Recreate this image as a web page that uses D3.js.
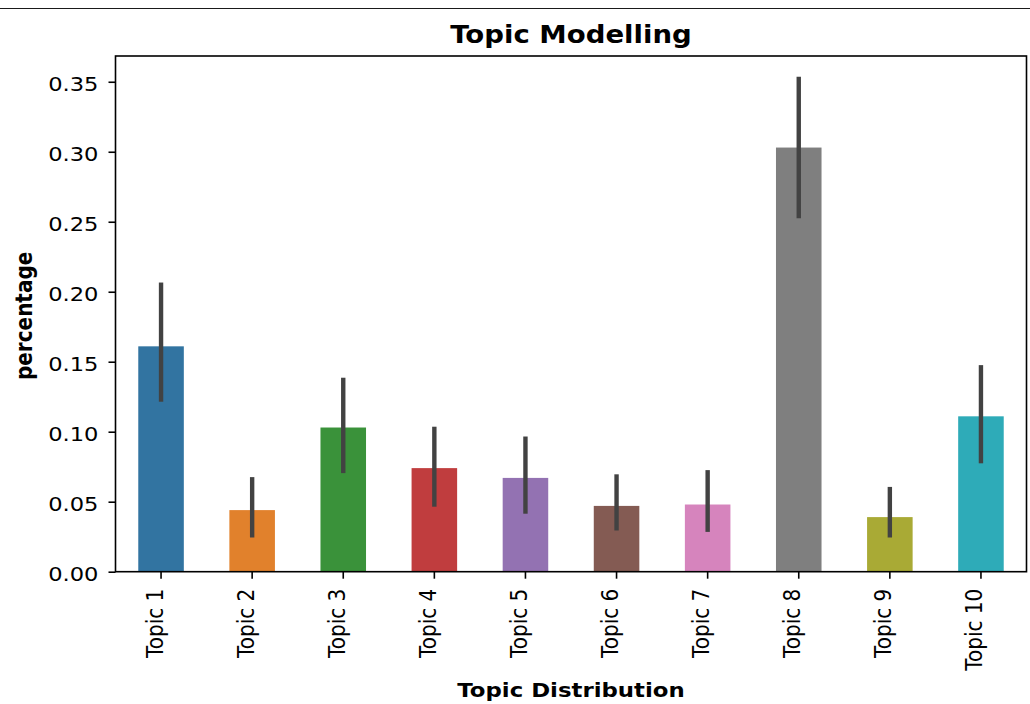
<!DOCTYPE html>
<html>
<head>
<meta charset="utf-8">
<script src="https://cdn.jsdelivr.net/npm/d3@7"></script>
<style>
  html, body { margin: 0; padding: 0; background: #fff; }
  svg { display: block; font-family: "DejaVu Sans", sans-serif; }
</style>
</head>
<body>
<div id="chart"></div>
<script>
// Topic Modelling - seaborn style bar chart with CI error bars
const topics = ['Topic 1', 'Topic 2', 'Topic 3', 'Topic 4', 'Topic 5',
                'Topic 6', 'Topic 7', 'Topic 8', 'Topic 9', 'Topic 10'];
const means  = [0.161, 0.044, 0.103, 0.074, 0.067, 0.047, 0.048, 0.303, 0.039, 0.111];
const ciLow  = [0.123, 0.026, 0.072, 0.048, 0.043, 0.031, 0.030, 0.254, 0.026, 0.079];
const ciHigh = [0.205, 0.066, 0.137, 0.102, 0.095, 0.068, 0.071, 0.352, 0.059, 0.146];
const yTicks = [0, 0.05, 0.10, 0.15, 0.20, 0.25, 0.30, 0.35];
const palette = ['#3274a1', '#e1812c', '#3a923a', '#c03d3e', '#9372b2',
                 '#845b53', '#d684bd', '#7f7f7f', '#a9aa35', '#2eabb8'];

const W = 1030, H = 704;
const m = { left: 115.5, right: 1026.5, top: 56, bottom: 571.7 };
const S = 1.13; // the reference picture is a little wider than tall

const rows = topics.map((t, i) => ({ topic: t, mean: means[i], lo: ciLow[i], hi: ciHigh[i], color: palette[i] }));

const svg = d3.select('#chart').append('svg')
    .attr('width', W)
    .attr('height', H);

// thin rule at the top of the cell
svg.append('line').attr('x1', 0).attr('x2', W).attr('y1', 8.5).attr('y2', 8.5)
    .attr('stroke', '#1a1a1a').attr('stroke-width', 1.2);

const x = d3.scaleBand()
    .domain(topics)
    .range([m.left, m.right])
    .paddingInner(0.5)
    .paddingOuter(0.25);

const y = d3.scaleLinear()
    .domain([0, 0.3684])
    .range([m.bottom, m.top]);

// bars
svg.append('g')
    .selectAll('rect')
    .data(rows)
    .join('rect')
    .attr('x', d => x(d.topic))
    .attr('y', d => y(d.mean))
    .attr('width', x.bandwidth())
    .attr('height', d => y(0) - y(d.mean))
    .attr('fill', d => d.color);

// error bars
svg.append('g')
    .selectAll('line')
    .data(rows)
    .join('line')
    .attr('x1', d => x(d.topic) + x.bandwidth() / 2)
    .attr('x2', d => x(d.topic) + x.bandwidth() / 2)
    .attr('y1', d => y(d.lo))
    .attr('y2', d => y(d.hi))
    .attr('stroke', '#424242')
    .attr('stroke-width', 4.4)
    .attr('stroke-linecap', 'square');

// y axis
const yAxis = svg.append('g')
    .attr('transform', `translate(${m.left},0)`)
    .call(d3.axisLeft(y).tickValues(yTicks).tickFormat(d3.format('.2f')).tickSize(7));

// x axis
const xAxis = svg.append('g')
    .attr('transform', `translate(0,${m.bottom})`)
    .call(d3.axisBottom(x).tickSize(7));

[yAxis, xAxis].forEach(g => {
    g.select('.domain').remove();
    g.selectAll('.tick line').attr('stroke', '#000').attr('stroke-width', 1.6);
    g.selectAll('.tick text').attr('fill', '#000').style('font-size', '20px')
        .style('font-family', '"DejaVu Sans", sans-serif');
});

yAxis.selectAll('.tick text')
    .attr('x', 0)
    .attr('dy', '0.42em')
    .attr('transform', `translate(-17,0) scale(${S},1)`);

xAxis.selectAll('.tick text')
    .attr('transform', `translate(0,17) scale(${S},1) rotate(-90)`)
    .attr('text-anchor', 'end')
    .attr('x', 0)
    .attr('y', 0)
    .attr('dy', 1.3);

// frame
svg.append('rect')
    .attr('x', m.left).attr('y', m.top)
    .attr('width', m.right - m.left).attr('height', m.bottom - m.top)
    .attr('fill', 'none').attr('stroke', '#000').attr('stroke-width', 1.6);

// title and labels
svg.append('text')
    .attr('transform', `translate(${(m.left + m.right) / 2},43) scale(${S},1)`)
    .attr('text-anchor', 'middle')
    .style('font-size', '24.4px').style('font-weight', 'bold')
    .text('Topic Modelling');

svg.append('text')
    .attr('transform', `translate(${(m.left + m.right) / 2},697) scale(${S},1)`)
    .attr('text-anchor', 'middle')
    .style('font-size', '20.2px').style('font-weight', 'bold')
    .text('Topic Distribution');

svg.append('text')
    .attr('transform', `translate(32,${(m.top + m.bottom) / 2 + 2}) scale(${S},1) rotate(-90)`)
    .attr('text-anchor', 'middle')
    .style('font-size', '20px').style('font-weight', 'bold')
    .text('percentage');
</script>
</body>
</html>
